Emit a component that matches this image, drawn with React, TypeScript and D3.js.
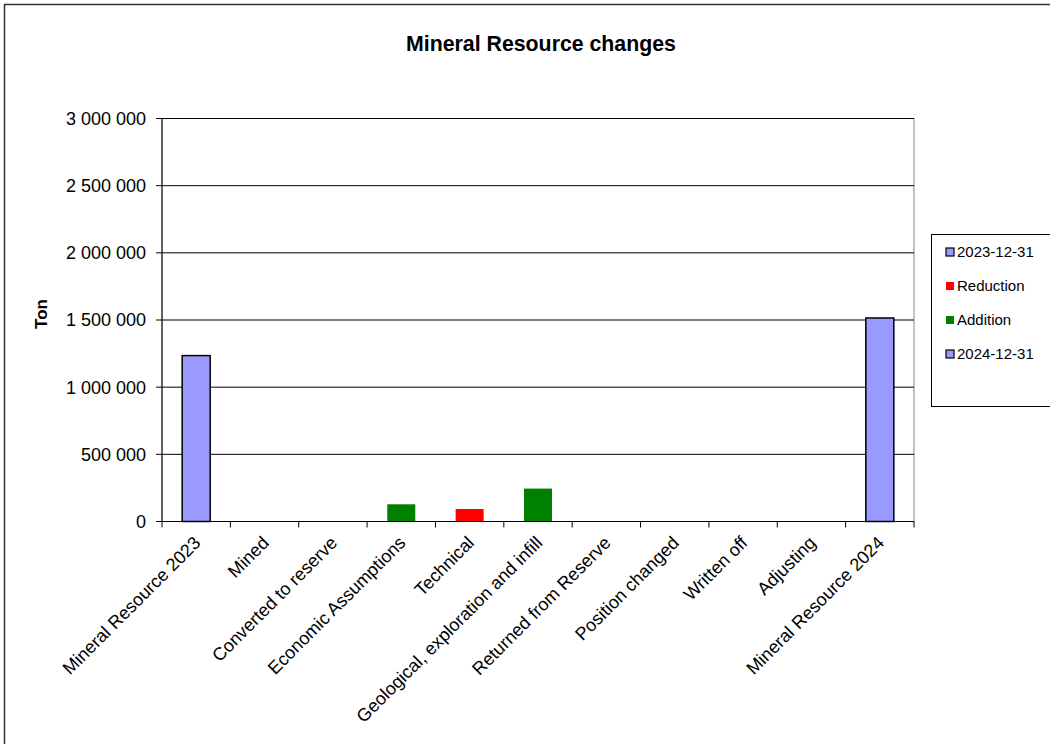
import * as d3 from "d3";

const categories = [
  "Mineral Resource 2023",
  "Mined",
  "Converted to reserve",
  "Economic Assumptions",
  "Technical",
  "Geological, exploration and infill",
  "Returned from Reserve",
  "Position changed",
  "Written off",
  "Adjusting",
  "Mineral Resource 2024",
];

const start2023 = [1235000, 0, 0, 0, 0, 0, 0, 0, 0, 0, 0];
const reduction = [0, 0, 0, 0, 93000, 0, 0, 0, 0, 0, 0];
const addition = [0, 0, 0, 128000, 0, 245000, 0, 0, 0, 0, 0];
const end2024 = [0, 0, 0, 0, 0, 0, 0, 0, 0, 0, 1515000];

const yTicks = [0, 500000, 1000000, 1500000, 2000000, 2500000, 3000000];

const series = [
  { name: "2023-12-31", values: start2023, color: "#9999FF", outline: true },
  { name: "Reduction", values: reduction, color: "#FF0000", outline: false },
  { name: "Addition", values: addition, color: "#008000", outline: false },
  { name: "2024-12-31", values: end2024, color: "#9999FF", outline: true },
];

const font = "'Liberation Sans', Arial, sans-serif";

export default function App() {
  const left = 162;
  const right = 914;
  const top = 118.5;
  const bottom = 521.5;

  const x = d3.scaleBand<string>().domain(categories).range([left, right]);
  const y = d3.scaleLinear().domain([0, 3000000]).range([bottom, top]);
  const fmt = (v: number) => d3.format(",")(v).replace(/,/g, " ");
  const barW = 28;

  const bounds = [...categories.map((c) => x(c) as number), right];

  return (
    <svg
      width={1050}
      height={744}
      style={{ position: "absolute", left: 0, top: 0, background: "#fff" }}
      fontFamily={font}
    >
      {/* chart area border */}
      <line x1={4} y1={4.5} x2={1050} y2={4.5} stroke="#333" strokeWidth={1.5} />
      <line x1={4.5} y1={4} x2={4.5} y2={744} stroke="#333" strokeWidth={1.5} />

      <text x={541} y={51} textAnchor="middle" fontSize={21.3} fontWeight="bold">
        Mineral Resource changes
      </text>

      {/* plot area */}
      <rect x={left} y={top} width={right - left} height={bottom - top} fill="none" stroke="#888" />
      {yTicks.map((t) => (
        <g key={t}>
          {t > 0 && <line x1={left} x2={right} y1={y(t)} y2={y(t)} stroke="#000" />}
          <line x1={left - 6} x2={left} y1={y(t)} y2={y(t)} stroke="#000" />
          <text x={left - 16} y={y(t)} dy="0.36em" textAnchor="end" fontSize={18} fill="#000">
            {fmt(t)}
          </text>
        </g>
      ))}

      {series.map((s) =>
        s.values.map((v, i) =>
          v > 0 ? (
            <rect
              key={s.name + i}
              x={(x(categories[i]) as number) + x.bandwidth() / 2 - barW / 2}
              y={y(v)}
              width={barW}
              height={y(0) - y(v)}
              fill={s.color}
              stroke={s.outline ? "#000" : "none"}
              strokeWidth={1.5}
            />
          ) : null
        )
      )}

      <line x1={left} x2={left} y1={top} y2={bottom} stroke="#000" />
      <line x1={left} x2={right} y1={bottom} y2={bottom} stroke="#000" />
      {bounds.map((b, i) => (
        <line key={i} x1={b} x2={b} y1={bottom} y2={bottom + 6} stroke="#000" />
      ))}

      {categories.map((c) => {
        const cx = (x(c) as number) + x.bandwidth() / 2;
        return (
          <text
            key={c}
            transform={`translate(${cx + 1},${bottom + 18}) rotate(-45)`}
            textAnchor="end"
            dy="0.35em"
            fontSize={18}
          >
            {c}
          </text>
        );
      })}

      <text
        transform={`translate(47,${(top + bottom) / 2 - 6}) rotate(-90)`}
        textAnchor="middle"
        fontSize={17}
        fontWeight="bold"
      >
        Ton
      </text>

      {/* legend */}
      <rect x={931.5} y={234.5} width={130} height={172} fill="#fff" stroke="#000" />
      {series.map((s, i) => {
        const cy = 252 + i * 34;
        return (
          <g key={s.name}>
            <rect
              x={946}
              y={cy - 4}
              width={8}
              height={8}
              fill={s.color}
              stroke={s.outline ? "#000" : "none"}
              strokeWidth={1.2}
            />
            <text x={957} y={cy} dy="0.35em" fontSize={15}>
              {s.name}
            </text>
          </g>
        );
      })}
    </svg>
  );
}
